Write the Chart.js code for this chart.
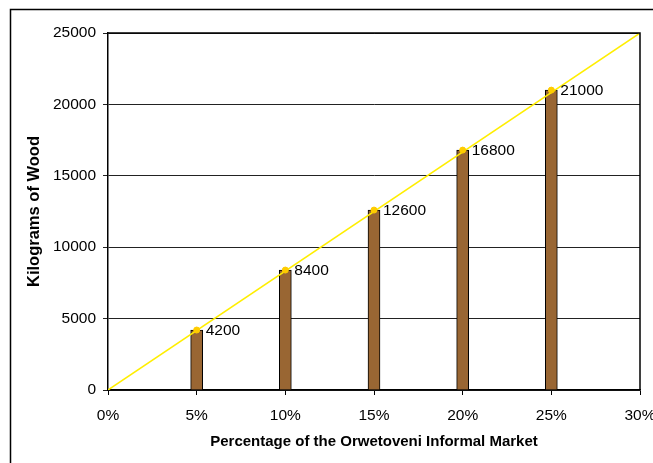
<!DOCTYPE html>
<html>
<head>
<meta charset="utf-8">
<script src="https://cdn.jsdelivr.net/npm/chart.js@4/dist/chart.umd.min.js"></script>
<style>
  html, body { margin: 0; padding: 0; background: #fff; overflow: hidden; }
  #wrap { width: 653px; height: 463px; overflow: hidden; }
</style>
</head>
<body>
<div id="wrap"><canvas id="wood-chart" width="700" height="500"></canvas></div>
<script>
// Market share (%) and wood sold (kg)
const shares = [5, 10, 15, 20, 25];
const woodKg = [4200, 8400, 12600, 16800, 21000];
// Straight trend line through the origin
const trendX = [0, 30];
const trendY = [0, 25000];

const FONT = "'Liberation Sans', Arial, sans-serif";

// white page with a thin frame around the chart
const chartFrame = {
  id: "chartFrame",
  beforeDraw(chart) {
    const ctx = chart.ctx;
    ctx.save();
    ctx.fillStyle = "#fff";
    ctx.fillRect(0, 0, chart.width, chart.height);
    ctx.strokeStyle = "#000";
    ctx.lineWidth = 1.5;
    ctx.strokeRect(10.5, 9.5, 900, 700);
    ctx.restore();
  },
  afterDraw(chart) {
    // top and right edge of the plot area
    const { ctx, chartArea: { top, bottom, left, right } } = chart;
    ctx.save();
    ctx.strokeStyle = "#000";
    ctx.lineWidth = 1.5;
    ctx.beginPath();
    ctx.moveTo(left, top);
    ctx.lineTo(right, top);
    ctx.lineTo(right, bottom);
    ctx.stroke();
    ctx.restore();
  },
};

// value next to the top of each bar
const barValues = {
  id: "barValues",
  afterDatasetsDraw(chart) {
    const ctx = chart.ctx;
    const meta = chart.getDatasetMeta(0);
    ctx.save();
    ctx.font = "15.5px " + FONT;
    ctx.fillStyle = "#000";
    ctx.textAlign = "left";
    ctx.textBaseline = "middle";
    meta.data.forEach((bar, i) => {
      ctx.fillText(String(woodKg[i]), bar.x + 9, bar.y + 1);
    });
    ctx.restore();
  },
};

new Chart(document.getElementById("wood-chart"), {
  type: "bar",
  data: {
    datasets: [
      {
        label: "Wood",
        data: shares.map((s, i) => ({ x: s, y: woodKg[i] })),
        backgroundColor: "#996633",
        borderColor: "#000",
        borderWidth: 1,
        barThickness: 12,
        order: 3,
      },
      {
        type: "line",
        label: "Trend",
        data: trendX.map((x, i) => ({ x: x, y: trendY[i] })),
        borderColor: "#FFEE00",
        borderWidth: 1.5,
        pointRadius: 0,
        fill: false,
        order: 2,
      },
      {
        type: "line",
        label: "Points",
        data: shares.map((s, i) => ({ x: s, y: woodKg[i] })),
        showLine: false,
        pointRadius: 3,
        pointBackgroundColor: "#FFCC00",
        pointBorderColor: "#FFCC00",
        order: 1,
      },
    ],
  },
  options: {
    responsive: false,
    animation: false,
    layout: { padding: { top: 33, right: 60, bottom: 40, left: 0 } },
    scales: {
      x: {
        type: "linear",
        min: 0,
        max: 30,
        offset: false,
        grid: { drawOnChartArea: false, offset: false, color: "#000", tickLength: 5 },
        border: { color: "#000", width: 1.5 },
        ticks: {
          stepSize: 5,
          padding: 11,
          color: "#000",
          font: { family: FONT, size: 15.5 },
          callback: (v) => v + "%",
        },
        title: {
          display: true,
          text: "Percentage of the Orwetoveni Informal Market",
          color: "#000",
          font: { family: FONT, size: 15, weight: "bold" },
          padding: { top: 0, bottom: 9 },
        },
        afterFit(scale) {
          scale.height = 70;
          scale.paddingLeft = 0;
          scale.paddingRight = 0;
        },
      },
      y: {
        min: 0,
        max: 25000,
        grid: { color: "#222", lineWidth: 1, tickLength: 5 },
        border: { color: "#000", width: 1.5 },
        ticks: {
          stepSize: 5000,
          padding: 7,
          color: "#000",
          font: { family: FONT, size: 15.5 },
          callback: (v) => String(v),
        },
        title: {
          display: true,
          text: "Kilograms of Wood",
          color: "#000",
          font: { family: FONT, size: 16.5, weight: "bold" },
          padding: { top: 25, bottom: 0 },
        },
        afterFit(scale) {
          scale.width = 108;
        },
      },
    },
    plugins: {
      legend: { display: false },
      tooltip: { enabled: false },
    },
  },
  plugins: [chartFrame, barValues],
});
</script>
</body>
</html>
